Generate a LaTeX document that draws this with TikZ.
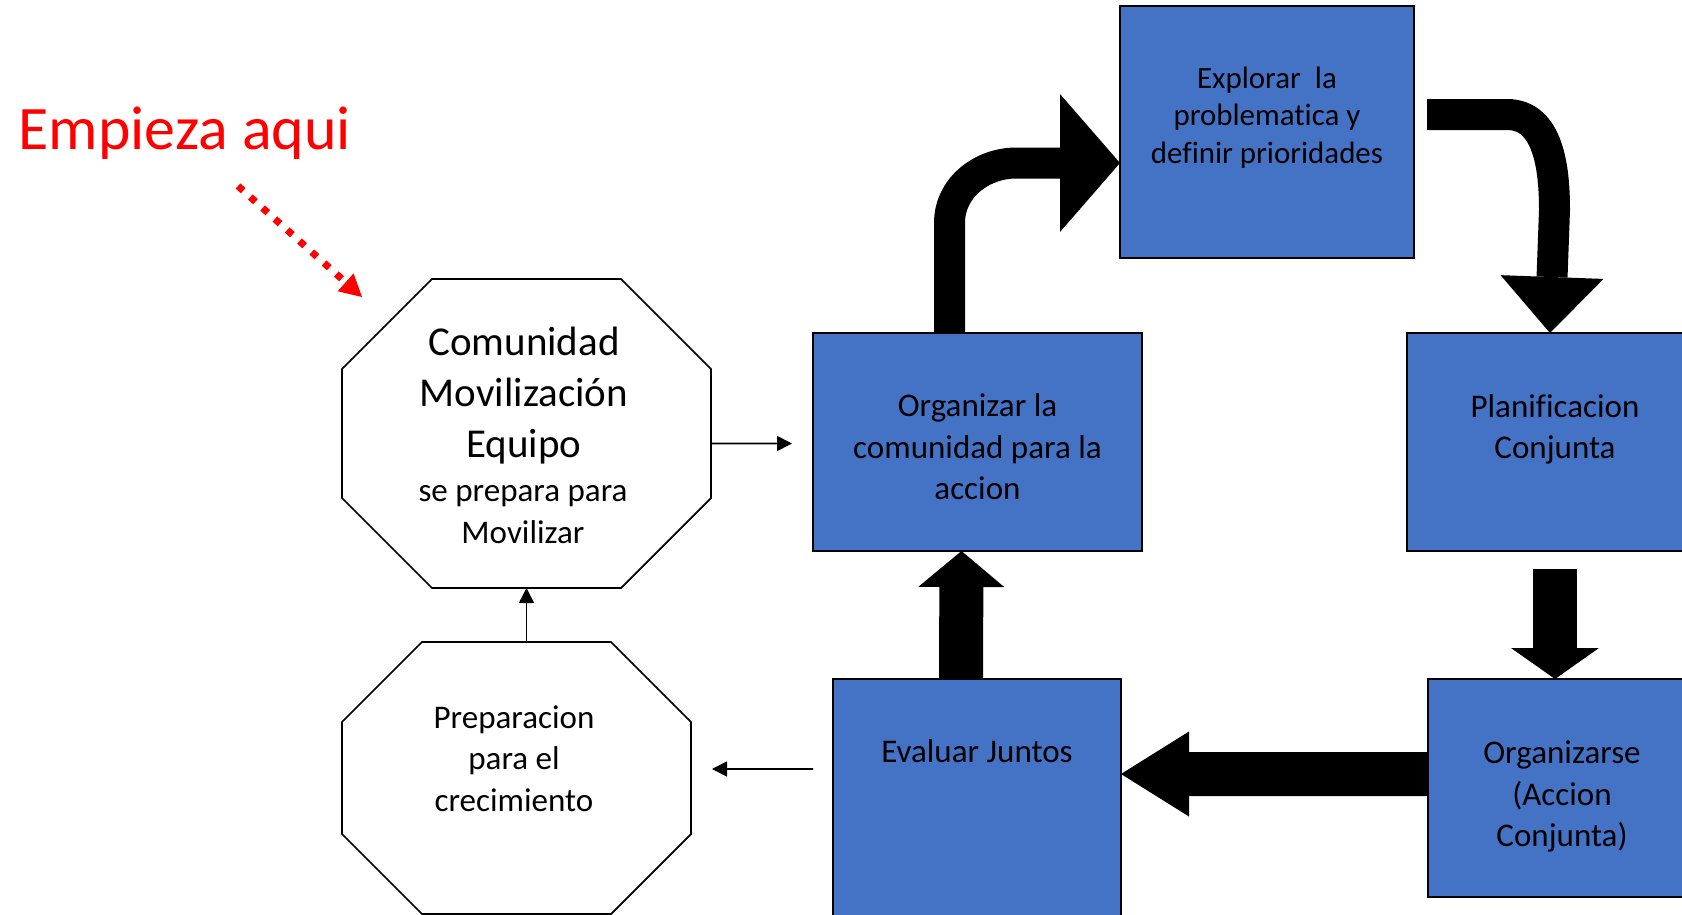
\documentclass[tikz,border=0pt]{standalone}
\usepackage{fontspec}
\setmainfont{Carlito}[Ligatures=CommonOff]
\usetikzlibrary{arrows.meta}
\definecolor{boxblue}{HTML}{4472C4}
\definecolor{startred}{HTML}{FF0000}
% octagon round a named node: node name, corner cut
\newcommand{\octa}[2]{\draw[octline] ([xshift=#2]#1.north west) -- ([xshift=-#2]#1.north east) -- ([yshift=-#2]#1.north east) -- ([yshift=#2]#1.south east) -- ([xshift=-#2]#1.south east) -- ([xshift=#2]#1.south west) -- ([yshift=#2]#1.south west) -- ([yshift=-#2]#1.north west) -- cycle;}

\begin{document}
\begin{tikzpicture}[
  box/.style={draw=black, line width=0.5pt, fill=boxblue, inner sep=0pt, outer sep=0pt},
  octa/.style={inner sep=0pt, outer sep=0pt},
  octline/.style={draw=black, line width=0.5pt, line join=miter},
  txt/.style={align=center, inner sep=0pt, font=\fontsize{9.4}{11.8}\selectfont},
  thinarrow/.style={line width=0.5pt, -{Triangle[length=1.5mm,width=1.5mm]}},
  blockarrow/.style={black, line width=0.44cm},
  curvearrow/.style={black, line width=0.31cm},
]
\useasboundingbox (0,0) rectangle (16.82,-9.15);

% boxes
\node[box, minimum width=3.29cm, minimum height=2.18cm] at (9.775,-4.42) (organizar) {};
\node[box, minimum width=2.94cm, minimum height=2.52cm] at (12.67,-1.32) (explorar) {};
\node[box, minimum width=2.96cm, minimum height=2.18cm] at (15.55,-4.42) (planif) {};
\node[box, minimum width=2.68cm, minimum height=2.18cm] at (15.62,-7.88) (organizarse) {};
\node[box, minimum width=2.88cm, minimum height=2.46cm] at (9.77,-8.02) (evaluar) {};

% octagons
\node[octa, minimum width=3.69cm, minimum height=3.09cm] at (5.265,-4.335) (equipo) {};
\octa{equipo}{0.9cm}
\node[octa, minimum width=3.49cm, minimum height=2.72cm] at (5.165,-7.78) (crec) {};
\octa{crec}{0.8cm}

% texts
\node[txt] at ([yshift=-0.5mm]organizar.center) (organizart) {Organizar la\\comunidad para la\\accion};
\node[txt, font=\fontsize{8.8}{10.7}\selectfont] at ([yshift=1.45mm]explorar.center) (explorart) {Explorar\ \ la\\problematica y\\definir prioridades};
\node[txt] at ([yshift=1.25mm]planif.center) (planift) {Planificacion\\Conjunta};
\node[txt] at ([yshift=-0.85mm]organizarse.center) (organizarset) {Organizarse\\(Accion\\Conjunta)};
\node[txt] at ([yshift=5.05mm]evaluar.center) (evaluart) {Evaluar Juntos};
\node[txt] at ([xshift=-0.25mm,yshift=1.95mm]crec.center) (crect) {Preparacion\\para el\\crecimiento};
\node[txt, font=\fontsize{11.67}{14.5}\selectfont] at ([xshift=-0.25mm,yshift=3.75mm]equipo.center) (equipot) {Comunidad\\Movilización\\Equipo};
\node[txt] at ([xshift=-0.35mm,yshift=-8.1mm]equipo.center) (equipos) {se prepara para\\Movilizar};
\node[anchor=base west, inner sep=0pt, text=startred, font=\fontsize{17.6}{21}\selectfont] at (0.18,-1.49) (empieza) {Empieza aqui};

% start arrow
\coordinate (aquitail) at (2.38,-1.86);
\coordinate (aquihead) at (3.62,-2.97);
\draw[startred, line width=0.07cm, dash pattern=on 0.07cm off 0.095cm, -{Triangle[length=2.2mm,width=2.4mm,line width=0pt]}] (aquitail) -- (aquihead);

% thin arrows
\draw[thinarrow] ([yshift=-1mm]equipo.east) -- ([xshift=-2.1mm,yshift=-0.15mm]organizar.west);
\draw[thinarrow] (equipo.south |- crec.north) -- (equipo.south);
\draw[thinarrow] ([xshift=-2mm,yshift=3.3mm]evaluar.west) -- ([xshift=2.1mm,yshift=0.9mm]crec.east);

% block arrows
\draw[curvearrow, -{Triangle[length=6mm,width=13.8mm,line width=0pt]}] ([xshift=-2.8mm]organizar.north) -- ++(0,1.1) to[out=90,in=180] ++(0.67,0.60) -- ([yshift=-3.1mm]explorar.west);
\draw[curvearrow, -{Triangle[length=5.6mm,width=10.3mm,line width=0pt]}] ([xshift=1.3mm,yshift=1.75mm]explorar.east) -- ++(0.8,0) to[out=0,in=90] ++(0.475,-0.955) -- ([xshift=-0.5mm]planif.north);
\draw[blockarrow, -{Triangle[length=3.1mm,width=8.8mm,line width=0pt]}] ([yshift=-1.8mm]planif.south) -- (planif.south |- organizarse.north);
\draw[blockarrow, -{Triangle[length=6.8mm,width=8.5mm,line width=0pt]}] ([yshift=1.4mm]organizarse.west) -- ([yshift=2.8mm]evaluar.east);
\draw[blockarrow, -{Triangle[length=3.6mm,width=8.6mm,line width=0pt]}] ([xshift=-1.6mm]evaluar.north) -- ([xshift=-1.6mm]organizar.south);
\end{tikzpicture}
\end{document}
